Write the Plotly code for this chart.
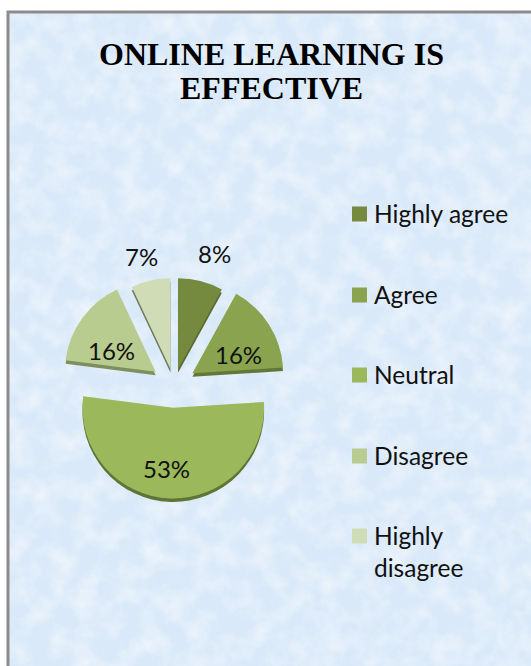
import base64
import plotly.graph_objects as go

categories = ["Highly agree", "Agree", "Neutral", "Disagree", "Highly disagree"]
legend_lines = ["Highly agree", "Agree", "Neutral", "Disagree", "Highly<br>disagree"]
shares = [8, 16, 53, 16, 7]
top_colors = ["#75893f", "#8aa34f", "#9bb85b", "#b9cc8f", "#d0dcb6"]
edge_colors = ["#5a6b30", "#62783a", "#5f7535", "#7e8f5e", "#6f7a5c"]
pull_amount = [0.18, 0.24, 0.25, 0.25, 0.18]

W, H = 531, 666
PANEL_LEFT, PANEL_TOP = 8, 12
TEXT_FONT = "Lato, Carlito, sans-serif"


def px(x):
    return x / W


def py(y):
    return 1 - y / H


def pie_domain(cx, cy, half):
    return dict(x=[px(cx - half), px(cx + half)], y=[py(cy + half), py(cy - half)])


def wedges(colors, cy):
    return go.Pie(
        labels=categories,
        values=shares,
        sort=False,
        direction="clockwise",
        rotation=0,
        pull=pull_amount,
        domain=pie_domain(174, cy, 113.5),
        marker=dict(colors=colors, line=dict(width=0)),
        textinfo="none",
        hoverinfo="label+percent",
        showlegend=False,
    )


def mottled_panel(width, height):
    # pale blue ground with faint white and blue clouding from an SVG noise filter
    svg = f"""<svg xmlns='http://www.w3.org/2000/svg' width='{width}' height='{height}'>
<filter id='light' x='0' y='0' width='100%' height='100%'>
<feTurbulence type='fractalNoise' baseFrequency='0.045' numOctaves='4' seed='7'/>
<feColorMatrix values='0 0 0 0 1  0 0 0 0 1  0 0 0 0 1  1.0 0 0 0 -0.38'/>
</filter>
<filter id='deep' x='0' y='0' width='100%' height='100%'>
<feTurbulence type='fractalNoise' baseFrequency='0.07' numOctaves='3' seed='23'/>
<feColorMatrix values='0 0 0 0 0.74  0 0 0 0 0.83  0 0 0 0 0.92  1.0 0 0 0 -0.42'/>
</filter>
<rect width='100%' height='100%' fill='#d9e9f9'/>
<rect width='100%' height='100%' filter='url(#deep)'/>
<rect width='100%' height='100%' filter='url(#light)'/>
</svg>"""
    return "data:image/svg+xml;base64," + base64.b64encode(svg.encode()).decode()


# the darker copy sits slightly lower and reads as the thickness of the pie
fig = go.Figure([wedges(edge_colors, 388.5), wedges(top_colors, 385)])

shapes = [
    dict(type="rect", xref="paper", yref="paper", x0=px(PANEL_LEFT), x1=px(W + 6), y0=py(H + 6), y1=py(PANEL_TOP),
         fillcolor="rgba(0,0,0,0)", line=dict(color="#8c8c8c", width=3))
]
annotations = []


def note(x, y, text, **kw):
    base = dict(xref="paper", yref="paper", x=px(x), y=py(y), text=text, showarrow=False,
                xanchor="center", yanchor="middle")
    base.update(kw)
    annotations.append(base)


# percentage labels
label_xy = [(214, 254), (238, 354), (166, 469), (111, 350), (141, 256)]
for v, (x, y) in zip(shares, label_xy):
    note(x, y, f"{v}%", font=dict(family=TEXT_FONT, size=24, color="#111111"))

# legend column
legend_y = [214, 295, 375, 456, 536]
for name, color, y in zip(legend_lines, top_colors, legend_y):
    shapes.append(dict(type="rect", xref="paper", yref="paper", x0=px(352), x1=px(367), y0=py(y + 7.5), y1=py(y - 7.5),
                       fillcolor=color, line=dict(width=0)))
    note(371.5, y - 17, name, xanchor="left", yanchor="top", align="left",
         font=dict(family=TEXT_FONT, size=24.5, color="#111111"))

# title lines are placed separately to keep them closer than the default leading
title_font = dict(family="Liberation Serif, Times New Roman, serif", size=32, color="#000000")
note(271, 54, "<b>ONLINE LEARNING IS</b>", font=title_font)
note(271, 88, "<b>EFFECTIVE</b>", font=title_font)

fig.update_layout(
    width=W,
    height=H,
    autosize=False,
    margin=dict(l=0, r=0, t=0, b=0),
    paper_bgcolor="white",
    shapes=shapes,
    annotations=annotations,
    images=[dict(source=mottled_panel(W - PANEL_LEFT, H - PANEL_TOP), xref="paper", yref="paper",
                 x=px(PANEL_LEFT), y=py(PANEL_TOP), sizex=px(W - PANEL_LEFT), sizey=(H - PANEL_TOP) / H,
                 xanchor="left", yanchor="top", sizing="stretch", layer="below")],
)

fig.write_html("out.html", config=dict(displayModeBar=False))
